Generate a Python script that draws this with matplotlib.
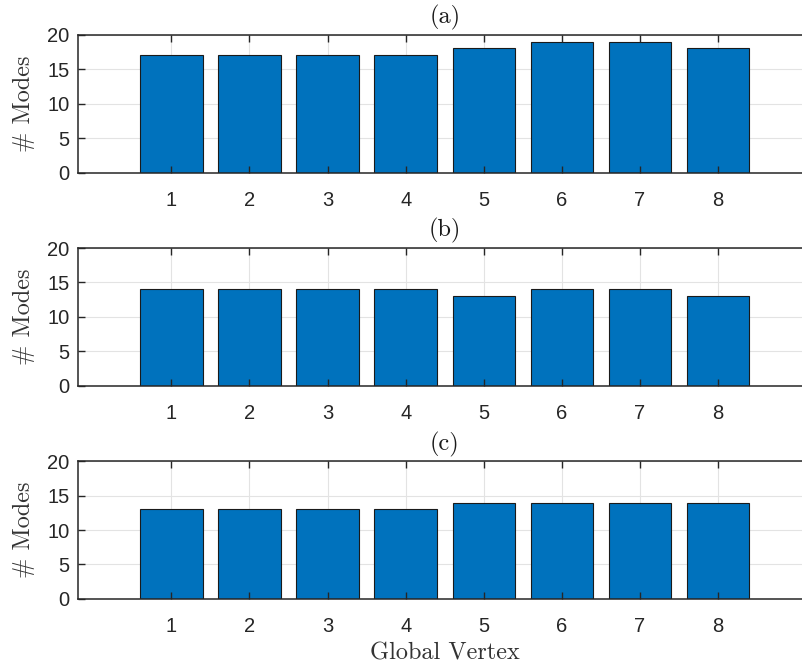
import matplotlib
matplotlib.use("Agg")
import matplotlib.pyplot as plt
import numpy as np

# Number of modes at each global vertex, for three cases
vertices = [1, 2, 3, 4, 5, 6, 7, 8]
modes_a = [17, 17, 17, 17, 18, 19, 19, 18]
modes_b = [14, 14, 14, 14, 13, 14, 14, 13]
modes_c = [13, 13, 13, 13, 14, 14, 14, 14]
panel_titles = ["(a)", "(b)", "(c)"]
y_ticks = [0, 5, 10, 15, 20]

bar_color = "#0072BD"
edge_color = "#1a1a1a"
axis_color = "#262626"
grid_color = "#e3e3e3"
serif = "cmr10"
sans = "Liberation Sans"

fig = plt.figure(figsize=(8.03, 6.68), dpi=100)

W, H = 803.0, 668.0
left_px = 77.7
x_lo, x_hi = -0.2, 9.2
px_per_unit = 78.09
width_px = (x_hi - x_lo) * px_per_unit
panel_px = [(34.7, 172.7), (248.0, 385.7), (461.3, 598.7)]

series = [modes_a, modes_b, modes_c]
axes = []
for (top, bottom), values, title in zip(panel_px, series, panel_titles):
    ax = fig.add_axes([left_px / W, (H - bottom) / H, width_px / W, (bottom - top) / H])
    ax.set_xlim(x_lo, x_hi)
    ax.set_ylim(0, 20)
    ax.set_xticks(vertices)
    ax.set_yticks(y_ticks)

    # light grid underneath the bars, ticks stay on top
    for yv in y_ticks:
        ax.axhline(yv, color=grid_color, lw=0.8, zorder=0.2)
    for xv in vertices:
        ax.axvline(xv, color=grid_color, lw=0.8, zorder=0.2)

    ax.bar(vertices, values, width=0.8, color=bar_color,
           edgecolor=edge_color, linewidth=0.8, zorder=1)

    for s in ax.spines.values():
        s.set_color(axis_color)
        s.set_linewidth(1.1)
        s.set_zorder(3)
    # the right edge of the box lies past the figure border
    ax.spines["right"].set_visible(False)

    ax.tick_params(axis="both", which="major", direction="in",
                   length=5.3, width=1.0, color=axis_color,
                   top=True, right=False, labelcolor=axis_color)
    ax.tick_params(axis="x", pad=13.5)
    ax.tick_params(axis="y", pad=6)
    for lab in ax.get_xticklabels() + ax.get_yticklabels():
        lab.set_fontfamily(sans)
        lab.set_fontsize(14.5)

    ax.set_title(title, fontfamily=serif, fontsize=17.5, pad=8, color="#1a1a1a")
    ax.set_ylabel("# Modes", fontfamily=serif, fontsize=17.5, color="#333333", labelpad=9)
    axes.append(ax)

axes[-1].set_xlabel("Global Vertex", fontfamily=serif, fontsize=17.5,
                    color="#333333", labelpad=4)

fig.savefig("out.png", dpi=100)
